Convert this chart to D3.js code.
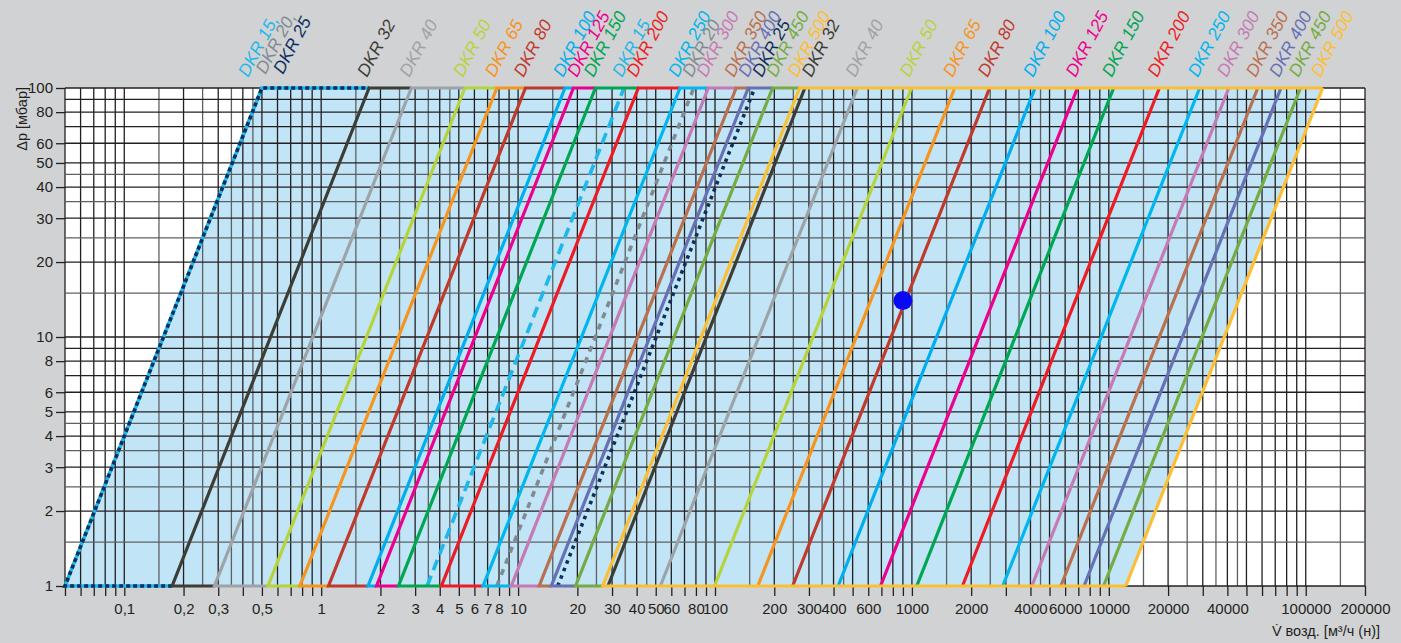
<!DOCTYPE html>
<html>
<head>
<meta charset="utf-8">
<script src="https://cdn.jsdelivr.net/npm/d3@7"></script>
<style>
  body { margin: 0; background: #d1d2d4; }
  svg { display: block; font-family: 'Liberation Sans', Arial, sans-serif; }
</style>
</head>
<body>
<div id="chart"></div>
<script>
// Sizes shared by both families
const sizes = ['DKR 32', 'DKR 40', 'DKR 50', 'DKR 65', 'DKR 80', 'DKR 100', 'DKR 125', 'DKR 150',
  'DKR 200', 'DKR 250', 'DKR 300', 'DKR 350', 'DKR 400', 'DKR 450', 'DKR 500'];

// flow [m3/h] at dp = 1 mbar and at dp = 100 mbar, first family
const set1Q1 = [0.175, 0.287, 0.537, 0.78, 1.09, 1.73, 1.91, 2.47, 4.08, 6.64, 9.24, 12.8, 14.75, 19.6, 26.9];
const set1Q100 = [1.75, 2.87, 5.37, 7.8, 10.9, 17.3, 19.1, 24.7, 40.8, 66.4, 92.4, 128, 147.5, 196, 269];
// DKR 15/20/25 share one line in the first family
const smallNames = ['DKR 15', 'DKR 20', 'DKR 25'];
const smallSet1Q1 = 0.05;
const smallSet1Q100 = 0.5;

// second family
const smallSet2Q1 = [3.45, 7.8, 15.9];
const smallSet2Q100 = [34.5, 78, 159];
const set2Q1 = [28.6, 52.8, 99.5, 165, 248, 422, 693, 1058, 1806, 2893, 4066, 5706, 7485, 9405, 12190];
const set2Q100 = [286, 528, 995, 1650, 2480, 4220, 6930, 10580, 18060, 28930, 40660, 57060, 74850, 94050, 121900];

// example operating point
const markerQ = [900];
const markerDp = [14];

const xTickLabels = [0.1, 0.2, 0.3, 0.5, 1, 2, 3, 4, 5, 6, 7, 8, 10, 20, 30, 40, 50, 60, 80, 100, 200, 300, 400,
  600, 1000, 2000, 4000, 6000, 10000, 20000, 40000, 100000, 200000];
const yTickLabels = [1, 2, 3, 4, 5, 6, 8, 10, 20, 30, 40, 50, 60, 80, 100];

const colors = ['#3d3d35', '#9ea3a7', '#b6d43a', '#f7941d', '#c0392b', '#00aeef', '#ec008c', '#00a651',
  '#ed1c24', '#00b6ee', '#c57ab3', '#b9704f', '#6570b5', '#74ac43', '#fcbf33'];
const smallColors = ['#1fb8ea', '#7f8b91', '#0d2f5e'];

const W = 1401, H = 643;
const margin = { top: 88, right: 36, bottom: 57, left: 65 };
const ink = '#231f20';

const svg = d3.select('#chart').append('svg').attr('width', W).attr('height', H);
svg.append('rect').attr('width', W).attr('height', H).attr('fill', '#d1d2d4');

const x = d3.scaleLog().domain([0.05, 200000]).range([margin.left, W - margin.right]);
const y = d3.scaleLog().domain([1, 100]).range([H - margin.bottom, margin.top]);
const [x0, x1] = x.range();
const [yb, yt] = y.range();

// plot background
svg.append('rect').attr('x', x0).attr('y', yt).attr('width', x1 - x0).attr('height', yb - yt).attr('fill', '#fff');

// working range fill
const last = sizes.length - 1;
svg.append('path')
  .attr('d', d3.line()([
    [x(smallSet1Q1), y(1)], [x(smallSet1Q100), y(100)],
    [x(set2Q100[last]), y(100)], [x(set2Q1[last]), y(1)]
  ]) + 'Z')
  .attr('fill', '#c1e5f6');

// grid
const steps = [1, 1.5, 2, 2.5, 3, 3.5, 4, 4.5, 5, 6, 7, 8, 9];
const xGrid = [], xMarks = [];
for (let e = -2; e <= 5; e++) {
  steps.forEach(s => {
    const v = +(s * Math.pow(10, e)).toPrecision(3);
    if (v >= 0.05 && v <= 200000) {
      xGrid.push({ v, half: s % 1 !== 0 });
      if (s % 1 === 0) xMarks.push(v);
    }
  });
}
const yGrid = [];
for (let e = 0; e <= 2; e++) {
  steps.forEach(s => {
    const v = +(s * Math.pow(10, e)).toPrecision(3);
    if (v >= 1 && v <= 100) yGrid.push({ v, half: s % 1 !== 0 });
  });
}
const grid = svg.append('g');
grid.selectAll('.gx').data(xGrid).join('line')
  .attr('x1', d => x(d.v)).attr('x2', d => x(d.v)).attr('y1', yt).attr('y2', yb)
  .attr('stroke', d => d.half ? '#5d6063' : ink).attr('stroke-width', 1.3);
grid.selectAll('.gy').data(yGrid).join('line')
  .attr('y1', d => y(d.v)).attr('y2', d => y(d.v)).attr('x1', x0).attr('x2', x1)
  .attr('stroke', d => d.half ? '#5d6063' : ink).attr('stroke-width', 1.3);

// axes
const xAxis = svg.append('g').attr('transform', `translate(0,${yb})`)
  .call(d3.axisBottom(x).tickValues(xMarks).tickSize(10).tickPadding(7)
    .tickFormat(d => xTickLabels.includes(d) ? String(d).replace('.', ',') : ''));
const yAxis = svg.append('g').attr('transform', `translate(${x0},0)`)
  .call(d3.axisLeft(y).tickValues(yTickLabels).tickSize(9).tickPadding(3).tickFormat(d => d));
[xAxis, yAxis].forEach(a => {
  a.select('.domain').remove();
  a.selectAll('.tick line').attr('stroke', ink).attr('stroke-width', 1.3);
  a.selectAll('.tick text').attr('fill', ink).attr('font-size', '15px')
    .attr('font-family', "'Liberation Sans', Arial, sans-serif");
});

const seg = d3.line();
const curves = svg.append('g').attr('fill', 'none').attr('stroke-linejoin', 'miter');

// second family: diagonals only
sizes.forEach((n, i) => {
  curves.append('path')
    .attr('d', seg([[x(set2Q1[i]), y(1)], [x(set2Q100[i]), y(100)]]))
    .attr('stroke', colors[i]).attr('stroke-width', 3.2);
});
const smallDash = ['11,6', '6,6', '3.5,4.5'];
smallNames.forEach((n, i) => {
  curves.append('path')
    .attr('d', seg([[x(smallSet2Q1[i]), y(1)], [x(smallSet2Q100[i]), y(100)]]))
    .attr('stroke', smallColors[i]).attr('stroke-width', 3.6)
    .attr('stroke-dasharray', smallDash[i]);
});

// first family: Z-shaped, running along the bottom and top to the next line
const q1 = [smallSet1Q1, ...set1Q1, set2Q1[last]];
const q100 = [smallSet1Q100, ...set1Q100, set2Q100[last]];
const zPts = i => [
  [x(q1[i + 1]), y(1)], [x(q1[i]), y(1)], [x(q100[i]), y(100)], [x(q100[i + 1]), y(100)]
];
// DKR 15/20/25 combined line
curves.append('path').attr('d', seg(zPts(0))).attr('stroke', smallColors[0]).attr('stroke-width', 3.6);
curves.append('path').attr('d', seg(zPts(0))).attr('stroke', smallColors[2]).attr('stroke-width', 3.6)
  .attr('stroke-dasharray', '4,3');
sizes.forEach((n, i) => {
  curves.append('path').attr('d', seg(zPts(i + 1)))
    .attr('stroke', colors[i]).attr('stroke-width', 3.2);
});

// marker
svg.selectAll('.pt').data(markerQ).join('circle')
  .attr('cx', d => x(d)).attr('cy', (d, i) => y(markerDp[i])).attr('r', 9.5)
  .attr('fill', '#0a0af2');

// rotated labels above the plot
const labels = [
  ...sizes.map((n, i) => ({ text: n, color: colors[i], q: set1Q100[i] })),
  ...smallNames.map((n, i) => ({ text: n, color: smallColors[i], q: smallSet2Q100[i] })),
  ...sizes.map((n, i) => ({ text: n, color: colors[i], q: set2Q100[i] }))
].map(d => ({ ...d, px: x(d.q) - 2 })).sort((a, b) => a.px - b.px);
for (let i = 1; i < labels.length; i++) labels[i].px = Math.max(labels[i].px, labels[i - 1].px + 14);

const labelY = yt - 10;
const lab = svg.append('g').attr('font-size', '17.5px').attr('font-style', 'italic');
lab.selectAll('text.lbl').data(labels).join('text')
  .attr('transform', d => `translate(${d.px},${labelY}) rotate(-62)`)
  .attr('fill', d => d.color).text(d => d.text);
smallNames.forEach((n, i) => {
  lab.append('text')
    .attr('transform', `translate(${x(smallSet1Q100) - 14 + i * 17.5},${labelY - (i ? 3 : 0)}) rotate(-62)`)
    .attr('fill', smallColors[i]).text(i < 2 ? n + ',' : n);
});

// axis titles
svg.append('text').attr('transform', `translate(27,${yt - 1}) rotate(-90)`)
  .attr('text-anchor', 'end').attr('font-size', '14.5px').attr('fill', ink)
  .text('Δp [мбар]');
svg.append('text').attr('x', 1380).attr('y', 636)
  .attr('text-anchor', 'end').attr('font-size', '14.5px').attr('fill', ink)
  .text('V\u0307 возд. [м³/ч (н)]');
</script>
</body>
</html>
